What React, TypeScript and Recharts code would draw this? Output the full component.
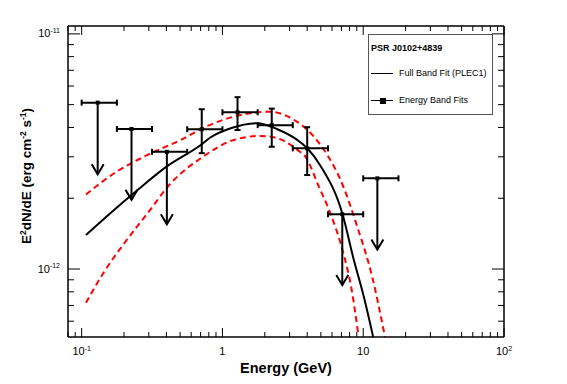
import React from "react";
import { ComposedChart, Line, Scatter, XAxis, YAxis, ErrorBar, Label } from "recharts";

const FONT = "'Liberation Sans', Arial, Helvetica, sans-serif";
const INK = "#000000";
const RED = "#ff0000";

// energy bands (GeV): centre + edges
const BAND_E = [0.13, 0.226, 0.403, 0.713, 1.28, 2.24, 4.0, 7.1, 12.6];
const BAND_LO = [0.1, 0.178, 0.316, 0.562, 1.0, 1.78, 3.16, 5.62, 10];
const BAND_HI = [0.178, 0.316, 0.562, 1.0, 1.78, 3.16, 5.62, 10, 17.8];
// E^2 dN/dE (erg cm^-2 s^-1)
const BAND_FLUX = [5.1e-12, 3.94e-12, 3.15e-12, 3.93e-12, 4.64e-12, 4.09e-12, 3.26e-12, 1.71e-12, 2.43e-12];
// lower error end, or arrow tip for the upper limits
const BAND_FLUX_LO = [2.53e-12, 1.97e-12, 1.55e-12, 3.11e-12, 3.9e-12, 3.31e-12, 2.51e-12, 8.55e-13, 1.21e-12];
const BAND_FLUX_HI = [null, null, null, 4.78e-12, 5.38e-12, 4.81e-12, 4.01e-12, null, null];
const BAND_UL = [true, true, true, false, false, false, false, true, true];

// full band fit (PLEC1)
const FIT_E = [0.1073, 0.1613, 0.2495, 0.4074, 0.7016, 0.826, 1.145, 1.771, 2.455, 3.4, 4.008, 4.98, 7.1, 8.58, 10.1, 11.77];
const FIT_F = [1.395e-12, 1.736e-12, 2.169e-12, 2.744e-12, 3.37e-12, 3.634e-12, 3.97e-12, 4.17e-12, 3.93e-12, 3.54e-12, 3.264e-12, 2.744e-12, 1.726e-12, 1.092e-12, 7.62e-13, 5.14e-13];

// 1 sigma band, upper edge
const UP_E = [0.1073, 0.1703, 0.2938, 0.506, 0.7827, 1.348, 2.141, 3.22, 4.464, 5.556, 6.902, 9.07, 11.58, 14.28];
const UP_F = [2.075e-12, 2.554e-12, 3.056e-12, 3.54e-12, 4.06e-12, 4.52e-12, 4.67e-12, 4.31e-12, 3.656e-12, 3.056e-12, 2.392e-12, 1.514e-12, 9.27e-13, 5.14e-13];

// 1 sigma band, lower edge
const LO_E = [0.1073, 0.1446, 0.2005, 0.2938, 0.4298, 0.7016, 1.209, 1.869, 2.455, 3.4, 3.898, 4.82, 5.866, 7.25, 8.26, 9.26];
const LO_F = [7.19e-13, 9.74e-13, 1.286e-12, 1.726e-12, 2.316e-12, 2.958e-12, 3.54e-12, 3.68e-12, 3.6e-12, 3.21e-12, 2.996e-12, 2.255e-12, 1.714e-12, 1.159e-12, 8.22e-13, 5.19e-13];

const X_DOMAIN = [0.08, 100];
const Y_DOMAIN = [5.14e-13, 1.08e-11];
const X_TICKS = [0.08, 0.09, 0.1, 0.2, 0.3, 0.4, 0.5, 0.6, 0.7, 0.8, 0.9, 1, 2, 3, 4, 5, 6, 7, 8, 9, 10, 20, 30, 40, 50, 60, 70, 80, 90, 100];
const Y_TICKS = [6e-13, 7e-13, 8e-13, 9e-13, 1e-12, 2e-12, 3e-12, 4e-12, 5e-12, 6e-12, 7e-12, 8e-12, 9e-12, 1e-11];
const X_MAJOR = [0.1, 1, 10, 100];
const X_LABELS = [["10", "-1"], ["1", ""], ["10", ""], ["10", "2"]];
const Y_MAJOR = [1e-12, 1e-11];
const Y_LABELS = [["10", "-12"], ["10", "-11"]];

const same = (a: number, b: number) => Math.abs(Math.log10(a / b)) < 1e-6;

function AxisTick(props: any) {
  const { x, y, payload, side } = props;
  const v = payload.value as number;
  const vertical = side === "left" || side === "right";
  const majors = vertical ? Y_MAJOR : X_MAJOR;
  const idx = majors.findIndex((m) => same(m, v));
  const major = idx >= 0;
  let line;
  if (side === "bottom") line = <line x1={x} y1={y} x2={x} y2={y - (major ? 9 : 5)} />;
  else if (side === "top") line = <line x1={x} y1={y} x2={x} y2={y + (major ? 9 : 5)} />;
  else if (side === "left") line = <line x1={x} y1={y} x2={x + (major ? 12 : 6)} y2={y} />;
  else line = <line x1={x} y1={y} x2={x - (major ? 12 : 6)} y2={y} />;
  let label = null;
  if (major && side === "bottom") {
    const [base, exp] = X_LABELS[idx];
    label = (
      <text x={x} y={y + 18} textAnchor="middle" fontSize={11} fill={INK} fontFamily={FONT}>
        {base}
        {exp && <tspan dy={-4.5} fontSize={7}>{exp}</tspan>}
      </text>
    );
  }
  if (major && side === "left") {
    const [base, exp] = Y_LABELS[idx];
    label = (
      <text x={x - 8} y={y + 3.5} textAnchor="end" fontSize={11} fill={INK} fontFamily={FONT}>
        {base}
        <tspan dy={-4.5} fontSize={7}>{exp}</tspan>
      </text>
    );
  }
  return (
    <g>
      <g stroke={INK} strokeWidth={1}>{line}</g>
      {label}
    </g>
  );
}

const square = (p: any) => <rect x={p.cx - 2} y={p.cy - 2} width={4} height={4} fill={INK} />;
const arrowHead = (p: any) => (
  <path d={`M${p.cx - 6},${p.cy - 10} L${p.cx},${p.cy} L${p.cx + 6},${p.cy - 10}`} fill="none" stroke={INK} strokeWidth={2} />
);

function XTitle() {
  return (
    <text x={278} y={365} textAnchor="middle" fontSize={14.5} fontWeight="bold" fill={INK} fontFamily={FONT}>
      Energy (GeV)
    </text>
  );
}

function YTitle() {
  return (
    <text transform="translate(23,168) rotate(-90)" textAnchor="middle" fontSize={13.5} fontWeight="bold" fill={INK} fontFamily={FONT}>
      E<tspan dy={-5.5} fontSize={8.5}>2</tspan>
      <tspan dy={5.5}>dN/dE (erg cm</tspan>
      <tspan dy={-5.5} fontSize={8.5}>-2</tspan>
      <tspan dy={5.5}> s</tspan>
      <tspan dy={-5.5} fontSize={8.5}>-1</tspan>
      <tspan dy={5.5}>)</tspan>
    </text>
  );
}

export default function App() {
  const bands = BAND_E.map((x, i) => {
    const y = BAND_FLUX[i];
    const lo = BAND_FLUX_LO[i];
    const hi = BAND_FLUX_HI[i];
    return {
      x,
      y,
      ul: BAND_UL[i],
      tip: lo,
      ex: [x - BAND_LO[i], BAND_HI[i] - x],
      ey: BAND_UL[i] ? [y - lo, 0] : [y - lo, (hi as number) - y],
    };
  });
  const detections = bands.filter((b) => !b.ul);
  const limits = bands.filter((b) => b.ul);
  const tips = limits.map((b) => ({ x: b.x, y: b.tip }));

  const fit = FIT_E.map((x, i) => ({ x, y: FIT_F[i] }));
  const upper = UP_E.map((x, i) => ({ x, y: UP_F[i] }));
  const lower = LO_E.map((x, i) => ({ x, y: LO_F[i] }));

  return (
    <div style={{ position: "relative", width: 551, height: 368, fontFamily: FONT }}>
      <ComposedChart width={551} height={368} margin={{ top: 17, right: 54, bottom: 0, left: 0 }}>
        <XAxis
          dataKey="x" type="number" scale="log" domain={X_DOMAIN} allowDataOverflow ticks={X_TICKS} interval={0}
          height={39} tickSize={0} tickMargin={0} tickLine={false}
          axisLine={{ stroke: INK, strokeWidth: 1.5 }}
          tick={(p: any) => <AxisTick {...p} side="bottom" />}
        >
          <Label content={XTitle} />
        </XAxis>
        <XAxis
          xAxisId="top" orientation="top" dataKey="x" type="number" scale="log" domain={X_DOMAIN} allowDataOverflow
          ticks={X_TICKS} interval={0} height={1} tickSize={0} tickMargin={0} tickLine={false}
          axisLine={{ stroke: INK, strokeWidth: 1.5 }}
          tick={(p: any) => <AxisTick {...p} side="top" />}
        />
        <YAxis
          dataKey="y" type="number" scale="log" domain={Y_DOMAIN} allowDataOverflow ticks={Y_TICKS} interval={0}
          width={60} tickSize={0} tickMargin={0} tickLine={false}
          axisLine={{ stroke: INK, strokeWidth: 1.5 }}
          tick={(p: any) => <AxisTick {...p} side="left" />}
        >
          <Label content={YTitle} />
        </YAxis>
        <YAxis
          yAxisId="right" orientation="right" dataKey="y" type="number" scale="log" domain={Y_DOMAIN} allowDataOverflow
          ticks={Y_TICKS} interval={0} width={1} tickSize={0} tickMargin={0} tickLine={false}
          axisLine={{ stroke: INK, strokeWidth: 1.5 }}
          tick={(p: any) => <AxisTick {...p} side="right" />}
        />

        <Line data={upper} dataKey="y" type="monotone" stroke={RED} strokeWidth={2} strokeDasharray="6 4" dot={false} isAnimationActive={false} />
        <Line data={lower} dataKey="y" type="monotone" stroke={RED} strokeWidth={2} strokeDasharray="6 4" dot={false} isAnimationActive={false} />
        <Line data={fit} dataKey="y" type="monotone" stroke={INK} strokeWidth={2} dot={false} isAnimationActive={false} />

        <Scatter data={limits} dataKey="y" shape={square} isAnimationActive={false}>
          <ErrorBar dataKey="ex" direction="x" width={3} stroke={INK} strokeWidth={2} />
          <ErrorBar dataKey="ey" direction="y" width={0} stroke={INK} strokeWidth={2} />
        </Scatter>
        <Scatter data={tips} dataKey="y" shape={arrowHead} isAnimationActive={false} />
        <Scatter data={detections} dataKey="y" shape={square} isAnimationActive={false}>
          <ErrorBar dataKey="ex" direction="x" width={3} stroke={INK} strokeWidth={2} />
          <ErrorBar dataKey="ey" direction="y" width={3} stroke={INK} strokeWidth={2} />
        </Scatter>
      </ComposedChart>

      <div
        style={{
          position: "absolute", left: 360, top: 26, width: 125, height: 81, boxSizing: "border-box",
          border: "1px solid #555", background: "#fff", color: INK, fontSize: 9, lineHeight: "11px",
        }}
      >
        <div style={{ position: "absolute", left: 2, top: 8, fontWeight: "bold", whiteSpace: "nowrap" }}>PSR J0102+4839</div>
        <div style={{ position: "absolute", left: 2, top: 38, width: 22, height: 1, background: INK }} />
        <div style={{ position: "absolute", left: 30, top: 33, whiteSpace: "nowrap" }}>Full Band Fit (PLEC1)</div>
        <div style={{ position: "absolute", left: 2, top: 65, width: 22, height: 1, background: INK }} />
        <div style={{ position: "absolute", left: 11, top: 62.5, width: 6, height: 6, background: INK }} />
        <div style={{ position: "absolute", left: 30, top: 60, whiteSpace: "nowrap" }}>Energy Band Fits</div>
      </div>
    </div>
  );
}
